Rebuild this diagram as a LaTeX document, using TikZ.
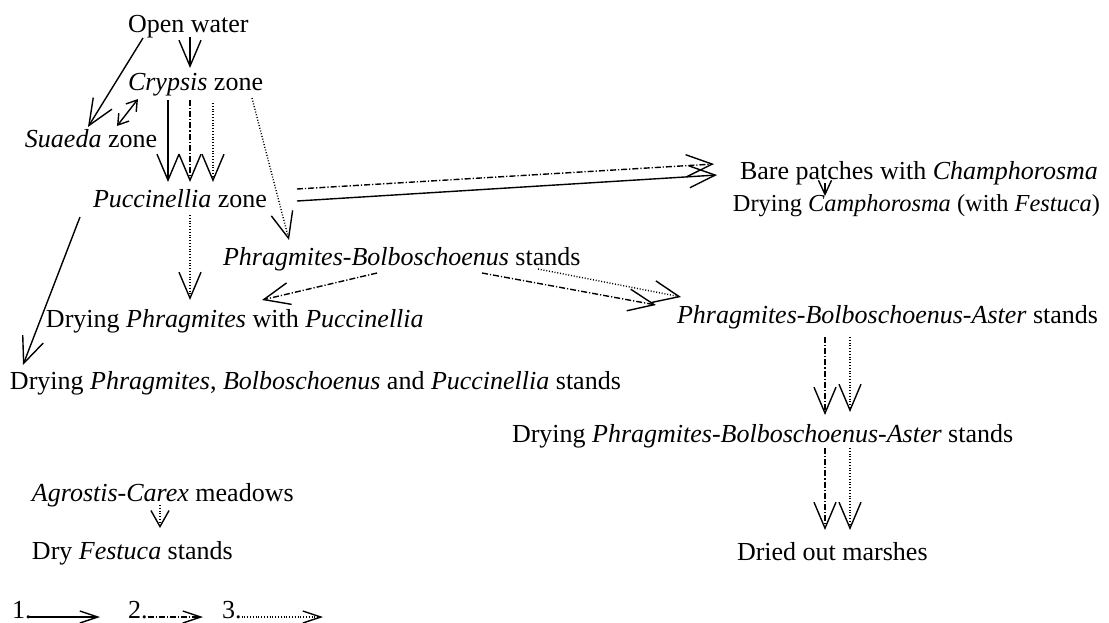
\documentclass[tikz,border=0pt]{standalone}
\usepackage{fontspec}
\setmainfont{Liberation Serif}
\usepackage{tikz}
\usetikzlibrary{arrows.meta}

\tikzset{
  txt/.style={inner sep=0pt, outer sep=0pt, anchor=base west, font=\fontsize{13pt}{15pt}\selectfont},
  flow/.style={-{Straight Barb[length=13pt,width=11pt]}, line width=0.7pt},
  dashflow/.style={flow, dash pattern=on 3pt off 1pt on 0.6pt off 1pt},
  dotflow/.style={flow, dash pattern=on 0.5pt off 0.9pt},
}

\begin{document}
\begin{tikzpicture}[x=0.5pt,y=-0.5pt]
  \useasboundingbox (0,0) rectangle (1109,622);
  \node[txt] (open) at (128,32) {Open water};
  \node[txt] (crypsis) at (128,90) {\emph{Crypsis} zone};
  \node[txt] (suaeda) at (25,147) {\emph{Suaeda} zone};
  \node[txt] (pucc) at (93,207) {\emph{Puccinellia} zone};
  \node[txt] (bare) at (740,179) {Bare patches with \emph{Champhorosma}};
  \node[txt, anchor=base east, font=\fontsize{12.2pt}{15pt}\selectfont] (drycamph) at (1100,211) {Drying \emph{Camphorosma} (with \emph{Festuca})};
  \node[txt] (pbstands) at (223,265) {\emph{Phragmites-Bolboschoenus} stands};
  \node[txt] (drypp) at (46,327) {Drying \emph{Phragmites} with \emph{Puccinellia}};
  \node[txt] (pba) at (677,323) {\emph{Phragmites-Bolboschoenus-Aster} stands};
  \node[txt] (drypbp) at (10,389) {Drying \emph{Phragmites}, \emph{Bolboschoenus} and \emph{Puccinellia} stands};
  \node[txt] (drypba) at (512,442) {Drying \emph{Phragmites-Bolboschoenus-Aster} stands};
  \node[txt] (dried) at (737,560) {Dried out marshes};
  \node[txt] (agrostis) at (32,501) {\emph{Agrostis-Carex} meadows};
  \node[txt] (festuca) at (32,559) {Dry \emph{Festuca} stands};
  \node[txt] (l1) at (12,618) {1.};
  \node[txt] (l2) at (128,618) {2.};
  \node[txt] (l3) at (222,618) {3.};
  \coordinate (e1) at (100,617);
  \coordinate (e2) at (203,617);
  \coordinate (e3) at (323,617);

  \draw[flow] ([shift={(62,5)}]open.base west) -- ([shift={(62,-22)}]crypsis.base west);
  \draw[flow] ([shift={(15,6)}]open.base west) -- ([shift={(63,-20)}]suaeda.base west);
  \draw[line width=0.7pt, {Straight Barb[length=5pt,width=6.5pt]}-{Straight Barb[length=5pt,width=6.5pt]}]
    ([shift={(92,-21)}]suaeda.base west) -- ([shift={(10,9)}]crypsis.base west);
  \draw[flow] ([shift={(40,10)}]crypsis.base west) -- ([shift={(75,-25)}]pucc.base west);
  \draw[dashflow] ([shift={(62,10)}]crypsis.base west) -- ([shift={(97,-25)}]pucc.base west);
  \draw[dotflow] ([shift={(85,13)}]crypsis.base west) -- ([shift={(120,-25)}]pucc.base west);
  \draw[dotflow] ([shift={(124,8)}]crypsis.base west) -- ([shift={(66,-25)}]pbstands.base west);
  \draw[dashflow] ([shift={(204,-18)}]pucc.base west) -- ([shift={(-26,-15)}]bare.base west);
  \draw[flow] ([shift={(204,-6)}]pucc.base west) -- ([shift={(-23,-4)}]bare.base west);
  \draw[dotflow] ([shift={(97,8)}]pucc.base west) -- ([shift={(144,-27)}]drypp.base west);
  \draw[flow] ([shift={(-13,10)}]pucc.base west) -- ([shift={(13,-24)}]drypbp.base west);
  \draw[line width=0.7pt, -{Straight Barb[length=7pt,width=6.5pt]}]
    ([shift={(85,4)}]bare.base west) -- ([shift={(-275,-15)}]drycamph.base east);
  \draw[dashflow] ([shift={(154,8)}]pbstands.base west) -- ([shift={(216,-27)}]drypp.base west);
  \draw[dashflow] ([shift={(259,8)}]pbstands.base west) -- ([shift={(-21,-18)}]pba.base west);
  \draw[dotflow] ([shift={(315,4)}]pbstands.base west) -- ([shift={(4,-26)}]pba.base west);
  \draw[dashflow] ([shift={(148,14)}]pba.base west) -- ([shift={(313,-27)}]drypba.base west);
  \draw[dotflow] ([shift={(173,14)}]pba.base west) -- ([shift={(338,-30)}]drypba.base west);
  \draw[dashflow] ([shift={(313,6)}]drypba.base west) -- ([shift={(88,-30)}]dried.base west);
  \draw[dotflow] ([shift={(338,6)}]drypba.base west) -- ([shift={(113,-30)}]dried.base west);
  \draw[dotflow, -{Straight Barb[length=8pt,width=9pt]}] ([shift={(128,4)}]agrostis.base west) -- ([shift={(128,-31)}]festuca.base west);

  \draw[line width=0.7pt, -{Straight Barb[length=9pt,width=6pt]}] ([shift={(-4,-1)}]l1.base east) -- (e1);
  \draw[line width=0.7pt, dash pattern=on 3pt off 1pt on 0.6pt off 1pt, -{Straight Barb[length=9pt,width=6pt]}] ([shift={(0,-1)}]l2.base east) -- (e2);
  \draw[line width=0.7pt, dash pattern=on 0.5pt off 0.9pt, -{Straight Barb[length=9pt,width=6pt]}] ([shift={(0,-1)}]l3.base east) -- (e3);
\end{tikzpicture}
\end{document}
